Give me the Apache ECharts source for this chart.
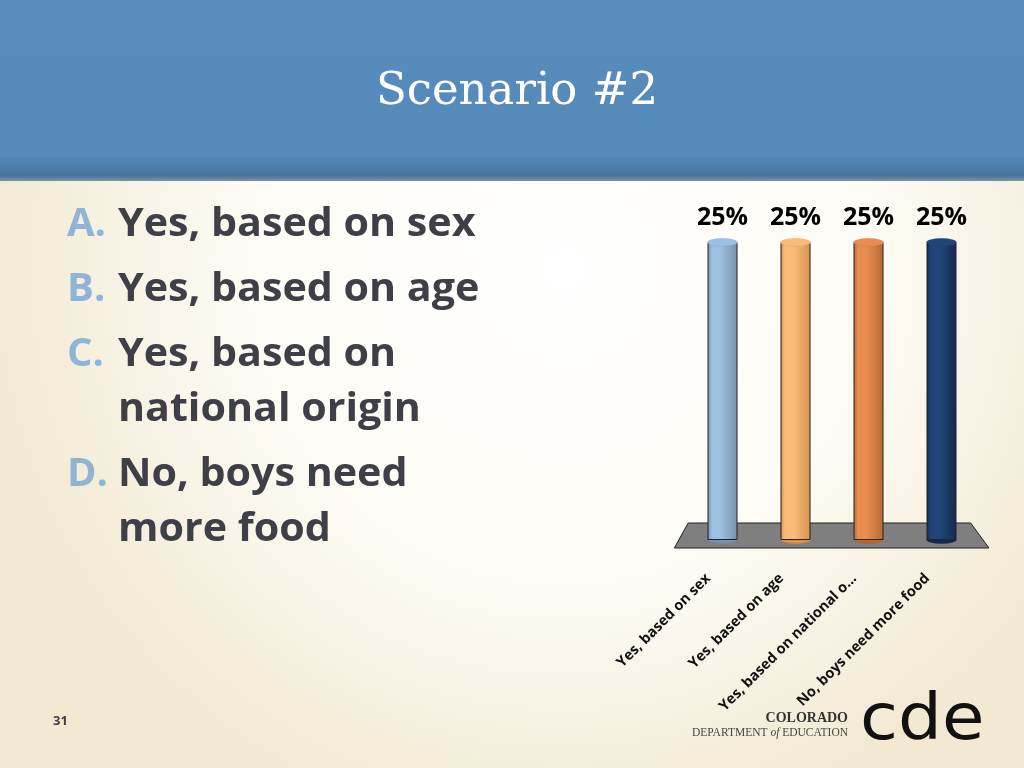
<!DOCTYPE html>
<html>
  <head>
  <meta charset="utf-8">
    <script type="text/javascript" src="https://cdn.jsdelivr.net/npm/echarts@6/dist/echarts.min.js"></script>
    <style>
      html, body { margin: 0; padding: 0; }
    </style>
  </head>
 <body>
     <div id="main" style="width:1024px;height:768px;"></div>
     <script type="text/javascript">
    // 数据
    var categories = ['Yes, based on sex', 'Yes, based on age', 'Yes, based on national o...', 'No, boys need more food'];
    var values = [25, 25, 25, 25];
    var barColors = [
        ['#9dbfe2', '#7890ab'],
        ['#fbbb78', '#d8924f'],
        ['#e88c4f', '#b66833'],
        ['#23447a', '#132a4e']
    ];
    var answerLetters = ['A.', 'B.', 'C.', '', 'D.', ''];
    var answerLines = ['Yes, based on sex', 'Yes, based on age', 'Yes, based on', 'national origin', 'No, boys need', 'more food'];
    var titleText = 'Scenario #2';
    var pageNo = '31';

    var myChart = echarts.init(document.getElementById('main'));

    function cylinder(i) {
        var c = barColors[i];
        return new echarts.graphic.LinearGradient(0, 0, 1, 0, [
            { offset: 0, color: c[1] },
            { offset: 0.15, color: c[0] },
            { offset: 0.45, color: c[0] },
            { offset: 1, color: c[1] }
        ]);
    }

    var barData = values.map(function (v, i) {
        return { value: v, itemStyle: { color: cylinder(i) } };
    });
    var capData = values.map(function (v, i) {
        return { value: v, itemStyle: { color: barColors[i][0] } };
    });
    var baseData = values.map(function (v, i) {
        return { value: 0, itemStyle: { color: barColors[i][1] } };
    });

    // 左侧文字（基线位置）
    var textGraphics = [];
    var baseY = [238, 303, 368, 423, 488, 543];
    answerLines.forEach(function (t, i) {
        if (answerLetters[i]) {
            textGraphics.push({
                type: 'text', x: 67, y: baseY[i] - 13,
                style: { text: answerLetters[i], fill: '#8fb4d6', font: 'bold 40px "Open Sans"', verticalAlign: 'middle' }
            });
        }
        textGraphics.push({
            type: 'text', x: 118, y: baseY[i] - 13, scaleX: 1.03,
            style: { text: t, fill: '#3f3f47', font: 'bold 40px "Open Sans"', verticalAlign: 'middle' }
        });
    });

    var option = {
        animation: false,
        graphic: [
            {
                type: 'rect', z: -10, shape: { x: 0, y: 0, width: 1024, height: 768 },
                style: {
                    fill: new echarts.graphic.RadialGradient(0.55, 0.35, 0.75, [
                        { offset: 0, color: '#ffffff' },
                        { offset: 0.55, color: '#fdfbf4' },
                        { offset: 1, color: '#f1e9d2' }
                    ])
                }
            },
            {
                type: 'rect', z: -9, shape: { x: 0, y: 0, width: 1024, height: 181 },
                style: {
                    fill: new echarts.graphic.LinearGradient(0, 0, 0, 1, [
                        { offset: 0, color: '#578bbb' },
                        { offset: 0.86, color: '#568aba' },
                        { offset: 0.97, color: '#46729d' },
                        { offset: 1, color: '#7d93a6' }
                    ])
                }
            },
            {
                type: 'text', x: 517, y: 92, z: 5,
                style: { text: titleText, fill: '#ffffff', font: '45px "DejaVu Serif"', align: 'center', verticalAlign: 'middle' }
            },
            {
                type: 'text', left: 53, top: 715,
                style: { text: pageNo, fill: '#3f3f47', font: 'bold 13px "Open Sans"' }
            },
            {
                type: 'text', right: 176, top: 711,
                style: { text: 'COLORADO', fill: '#333333', font: 'bold 14px "Liberation Serif"' }
            },
            {
                type: 'text', right: 176, top: 727,
                style: {
                    text: '{n|DEPARTMENT }{i|of}{n| EDUCATION}',
                    rich: {
                        n: { fill: '#444444', font: '11.5px "Liberation Serif"' },
                        i: { fill: '#444444', font: 'italic 11.5px "Liberation Serif"' }
                    }
                }
            },
            {
                type: 'text', x: 860, y: 690, scaleX: 1.08,
                style: { text: 'cde', fill: '#111111', font: '64px "DejaVu Sans"' }
            }
        ].concat(textGraphics),
        grid: { left: 686, right: 46, top: 242, bottom: 228 },
        xAxis: {
            type: 'category',
            data: categories,
            axisLine: { show: false },
            axisTick: { show: false },
            axisLabel: {
                rotate: 45,
                interval: 0,
                margin: 22,
                padding: [0, 20, 0, 0],
                color: '#111',
                fontFamily: 'Open Sans',
                fontWeight: 'bold',
                fontSize: 14.5
            }
        },
        yAxis: {
            type: 'value', min: 0, max: 25, show: false,
            splitLine: { show: false }
        },
        series: [
            {
                type: 'bar',
                data: barData,
                barWidth: 30,
                z: 3,
                itemStyle: { borderColor: '#222', borderWidth: 1 },
                label: {
                    show: true, position: 'top', distance: 12,
                    formatter: '{c}%',
                    color: '#000', fontFamily: 'Open Sans', fontWeight: 'bold', fontSize: 25
                }
            },
            {
                type: 'pictorialBar',
                data: capData,
                symbol: 'circle',
                symbolSize: [30, 8],
                symbolPosition: 'end',
                symbolOffset: [0, '-50%'],
                z: 4,
                itemStyle: { borderColor: '#222', borderWidth: 1 }
            },
            {
                type: 'pictorialBar',
                data: baseData,
                symbol: 'circle',
                symbolSize: [30, 8],
                symbolPosition: 'start',
                symbolOffset: [0, '50%'],
                z: 2,
                itemStyle: { borderColor: '#222', borderWidth: 1 }
            }
        ]
    };
    myChart.setOption(option);

    // 底座：按坐标轴位置计算
    var p0 = myChart.convertToPixel({ gridIndex: 0 }, [0, 0]);
    var p3 = myChart.convertToPixel({ gridIndex: 0 }, [3, 0]);
    var step = (p3[0] - p0[0]) / 3;
    var yb = p0[1];
    myChart.setOption({
        graphic: option.graphic.concat([{
            type: 'polygon', z: 1,
            shape: { points: [
                [p0[0] - step * 0.47, yb - 17],
                [p3[0] + step * 0.4, yb - 17],
                [p3[0] + step * 0.65, yb + 8],
                [p0[0] - step * 0.66, yb + 8]
            ] },
            style: { fill: '#7f7f7f', stroke: '#222', lineWidth: 1 }
        }])
    });
    </script>
  </body>
</html>
